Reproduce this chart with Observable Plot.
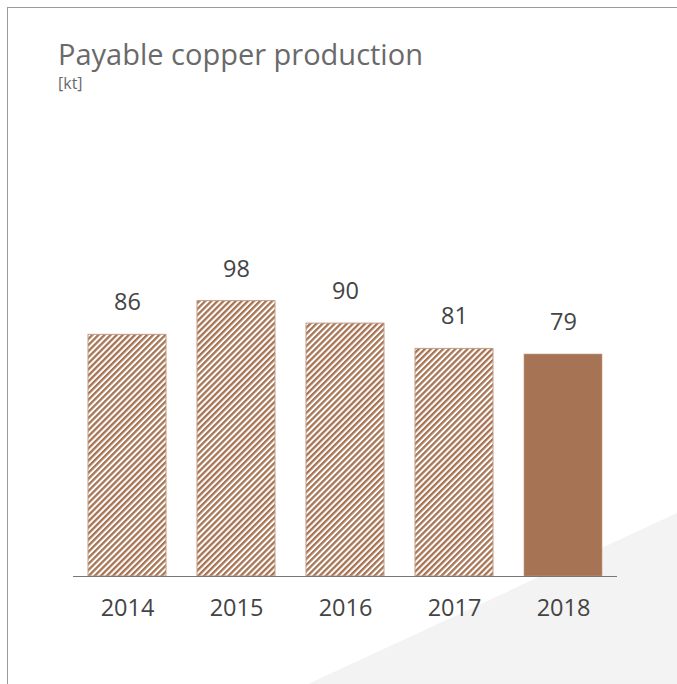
<!DOCTYPE html>
<html>
<head>
<meta charset="utf-8">
<script src="https://cdn.jsdelivr.net/npm/d3@7"></script>
<script src="https://cdn.jsdelivr.net/npm/@observablehq/plot@0.6"></script>
<style>
  html, body { margin: 0; padding: 0; background: #fff; }
  #wrap { position: relative; width: 677px; height: 684px; overflow: hidden; font-family: "Open Sans", sans-serif; }
  #bg { position: absolute; left: 0; top: 0; width: 677px; height: 684px; background: #f3f3f3;
        clip-path: polygon(308px 684px, 677px 513px, 677px 684px); }
  #frame { position: absolute; left: 7px; top: 7px; width: 680px; height: 690px;
           border-left: 1px solid #9a9a9a; border-top: 1px solid #9a9a9a; }
  #title { position: absolute; left: 58px; top: 39px; font-size: 29px; color: #6a6a6a; line-height: 1; white-space: nowrap; font-weight: 400; }
  #subtitle { position: absolute; left: 58px; top: 75px; font-size: 16px; color: #6a6a6a; line-height: 1; font-weight: 400; }
  #chart { position: absolute; left: 0; top: 0; }
</style>
</head>
<body>
<div id="wrap">
  <div id="bg"></div>
  <div id="frame"></div>
  <div id="title">Payable copper production</div>
  <div id="subtitle">[kt]</div>
  <div id="chart"></div>
</div>
<script>
const years = ["2014", "2015", "2016", "2017", "2018"];
const values = [86, 98, 90, 81, 79];
const hatched = [true, true, true, true, false];

const data = years.map((y, i) => ({year: y, value: values[i], hatched: hatched[i]}));

const brown = "#a67454";

const chart = Plot.plot({
  width: 677,
  height: 684,
  marginLeft: 73,
  marginRight: 60,
  marginTop: 295,
  marginBottom: 108,
  style: {background: "transparent", fontFamily: "'Open Sans', sans-serif", color: "#444", overflow: "visible"},
  x: {domain: years, paddingInner: 0.28, paddingOuter: 0.135, label: null},
  y: {domain: [0, 100], axis: null},
  marks: [
    Plot.barY(data, {filter: d => d.hatched, x: "year", y: "value", fill: "url(#hatch)", stroke: "#c39a80", strokeWidth: 1}),
    Plot.barY(data, {filter: d => !d.hatched, x: "year", y: "value", fill: brown, stroke: "#c39a80", strokeWidth: 0.6}),
    Plot.ruleY([0], {stroke: "#777", strokeWidth: 1.2}),
    Plot.text(data, {x: "year", y: "value", text: d => String(d.value), dy: -32, fontSize: 23.5, fill: "#444", lineAnchor: "middle"}),
    Plot.axisX({tickSize: 0, tickPadding: 23, fontSize: 23.5, label: null, fill: "#444"})
  ]
});

const svg = d3.select(chart);
const defs = svg.insert("defs", ":first-child");
const pat = defs.append("pattern")
  .attr("id", "hatch")
  .attr("patternUnits", "userSpaceOnUse")
  .attr("width", 4.3)
  .attr("height", 4.3)
  .attr("patternTransform", "rotate(45)");
pat.append("rect").attr("width", 4.3).attr("height", 4.3).attr("fill", "#fff");
pat.append("rect").attr("width", 2.3).attr("height", 4.3).attr("fill", brown);

document.getElementById("chart").appendChild(chart);
</script>
</body>
</html>
